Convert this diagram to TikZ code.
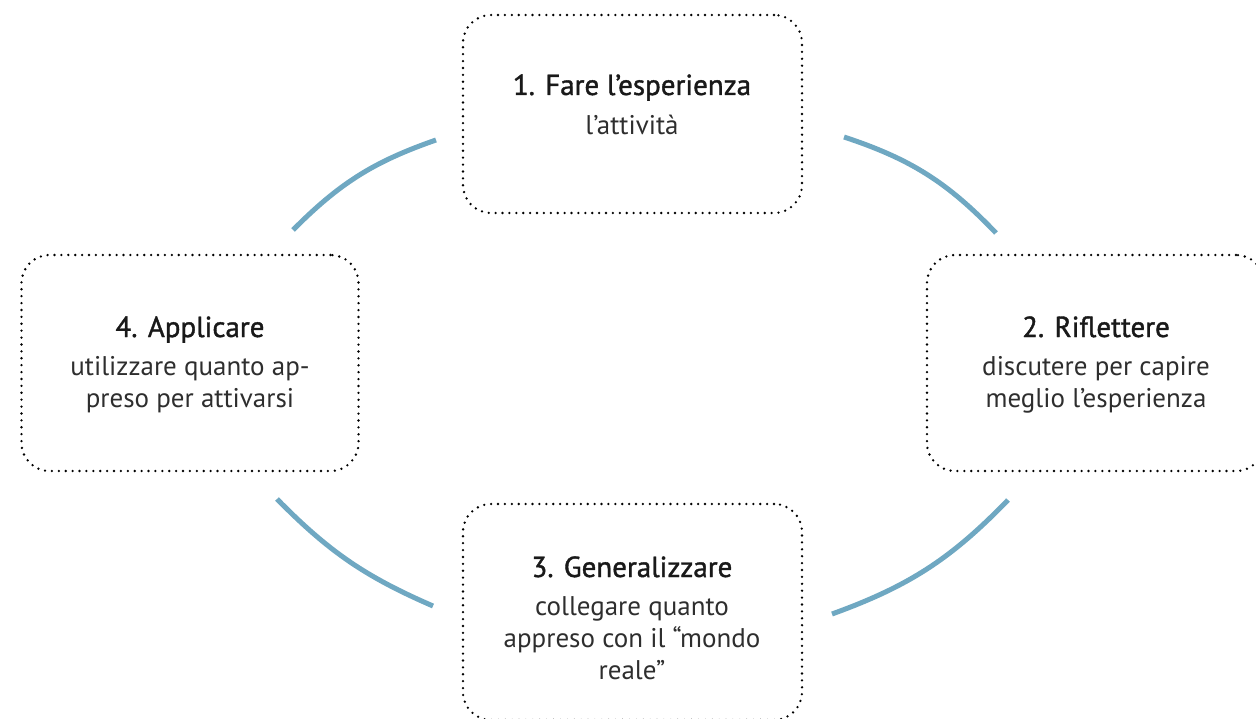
\documentclass[tikz,border=0pt]{standalone}
\usepackage{fontspec}
\setmainfont{PT Sans}
\newfontfamily\headfont[FakeBold=1.3]{PT Sans}
\usetikzlibrary{positioning}

\definecolor{arcblue}{HTML}{6FA8C2}
\definecolor{bodygray}{HTML}{2E2E2E}

\tikzset{
  stage/.style={draw=black, line width=2.6pt, dash pattern=on 0pt off 6.9pt,
    line cap=round, rounded corners=28pt, inner sep=0pt},
  stagetext/.style={anchor=base, align=center, inner sep=0pt, text=bodygray,
    font=\fontsize{27}{32}\selectfont},
  cyclearc/.style={draw=arcblue, line width=5pt, bend left=13},
}
\newcommand{\stagehead}[1]{{\fontsize{29}{32}\headfont\color{black!90}#1}}

\begin{document}
\begin{tikzpicture}[x=1pt, y=-1pt]
\useasboundingbox (0,0) rectangle (1256,719);

% the four stages
\node[stage, minimum width=339, minimum height=198] (exper) at (632.5,114) {};
\node[stage, minimum width=337, minimum height=216] (rifl) at (1095.5,363) {};
\node[stage, minimum width=339, minimum height=216] (gener) at (632.5,612) {};
\node[stage, minimum width=337, minimum height=216] (appl) at (190,363) {};

% their texts (baseline of the last line)
\node[stagetext] (exper-t) at (632,135)
  {\stagehead{1. Fare l’esperienza}\\[8pt] l’attività};
\node[stagetext] (rifl-t) at (1096,407)
  {\stagehead{2. Riflettere}\\[6pt] discutere per capire\\ meglio l’esperienza};
\node[stagetext] (gener-t) at (632,679)
  {\stagehead{3. Generalizzare}\\[6pt] collegare quanto\\ appreso con il “mondo\\ reale”};
\node[stagetext] (appl-t) at (190,407)
  {\stagehead{4. Applicare}\\[6pt] utilizzare quanto ap-\\ preso per attivarsi};

% ends of the arcs
\coordinate (tl-a) at (293,230);
\coordinate (tl-b) at (436,140);
\coordinate (tr-a) at (844,137);
\coordinate (tr-b) at (996,233);
\coordinate (br-a) at (1008,500);
\coordinate (br-b) at (832,614);
\coordinate (bl-a) at (433,606);
\coordinate (bl-b) at (277,499);

% cycle
\draw[cyclearc] (tl-a) to (tl-b);
\draw[cyclearc, bend left=14] (tr-a) to (tr-b);
\draw[cyclearc] (br-a) to (br-b);
\draw[cyclearc, bend left=11] (bl-a) to (bl-b);

\end{tikzpicture}
\end{document}
